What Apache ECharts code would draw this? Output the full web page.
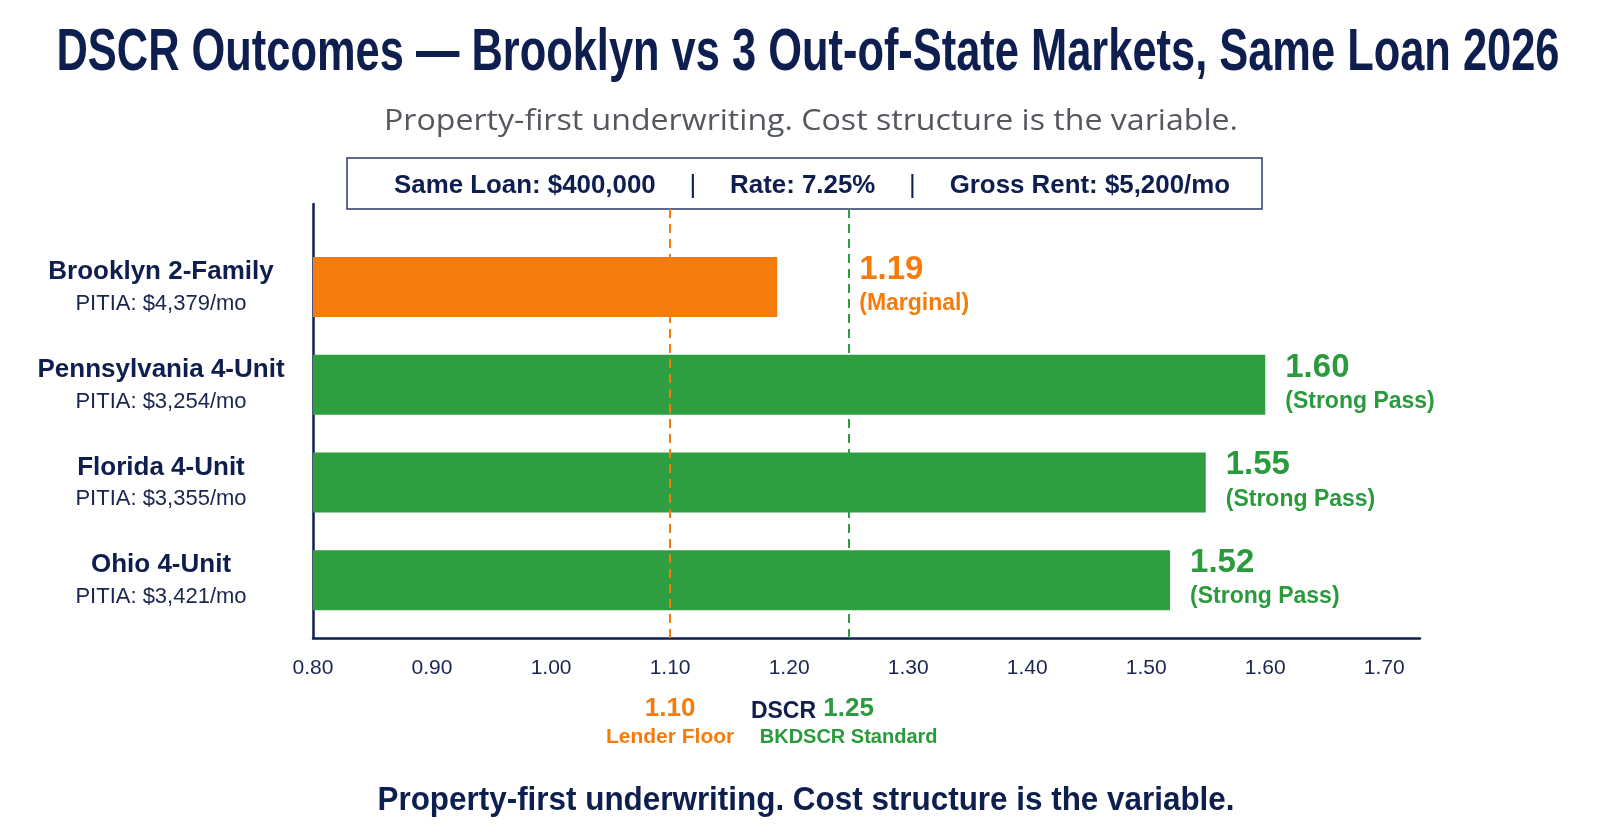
<!DOCTYPE html>
<html>
<head>
<meta charset="utf-8">
<script src="https://cdn.jsdelivr.net/npm/echarts@6/dist/echarts.min.js"></script>
<style>
html, body { margin: 0; padding: 0; background: #fff; }
#chart { width: 1600px; height: 840px; }
</style>
</head>
<body>
<div id="chart"></div>
<script>
// data
var markets = ['Brooklyn 2-Family', 'Pennsylvania 4-Unit', 'Florida 4-Unit', 'Ohio 4-Unit'];
var pitia = ['$4,379', '$3,254', '$3,355', '$3,421'];
var dscr = [1.19, 1.60, 1.55, 1.52];
var ratings = ['Marginal', 'Strong Pass', 'Strong Pass', 'Strong Pass'];
var lenderFloor = 1.10;
var bkStandard = 1.25;
var axisMin = 0.8, axisMax = 1.73, axisStep = 0.1;
var facts = ['Same Loan: $400,000', 'Rate: 7.25%', 'Gross Rent: $5,200/mo'];

var NAVY = '#0e1e4f';
var ORANGE = '#f57c0a';
var GREEN = '#2e9e41';
var GREEN_TXT = '#2a9a3c';
var SANS = '"Liberation Sans", Arial, sans-serif';

var ctx = document.createElement('canvas').getContext('2d');
function textWidth(text, font) {
    ctx.font = font;
    return ctx.measureText(text).width;
}
function fitScale(text, font, width) {
    return width / textWidth(text, font);
}

var titleText = 'DSCR Outcomes \u2014 Brooklyn vs 3 Out-of-State Markets, Same Loan 2026';
var titleFont = 'bold 60px ' + SANS;
var subText = 'Property-first underwriting. Cost structure is the variable.';
var subFont = '29px "Open Sans", sans-serif';
var tagFont = 'bold 33px ' + SANS;

// the facts strip: three bold items split by bars
var factFont = 'bold 26px ' + SANS;
var sepPad = 34;
var factsWidth = facts.reduce(function(s, t) { return s + textWidth(t, factFont); }, 0) +
    2 * textWidth('|', '26px ' + SANS) + 4 * sepPad;
var factsText = facts.map(function(t) { return '{a|' + t + '}'; }).join('{s||}');

var chart = echarts.init(document.getElementById('chart'));

var option = {
    animation: false,
    backgroundColor: '#fff',
    graphic: [
        {
            type: 'text', x: 808, y: 53, scaleX: fitScale(titleText, titleFont, 1503),
            style: { text: titleText, font: titleFont, fill: NAVY, align: 'center', verticalAlign: 'middle', textAlign: 'center', textVerticalAlign: 'middle' }
        },
        {
            type: 'text', x: 811, y: 122, scaleX: fitScale(subText, subFont, 854),
            style: { text: subText, font: subFont, fill: '#54585e', align: 'center', verticalAlign: 'middle', textAlign: 'center', textVerticalAlign: 'middle' }
        },
        {
            type: 'rect', shape: { x: 347, y: 158, width: 915, height: 51 },
            style: { fill: 'none', stroke: '#2b3a6b', lineWidth: 1.5 }
        },
        {
            type: 'text', x: 812, y: 186, scaleX: 836 / factsWidth,
            style: {
                text: factsText,
                align: 'center', verticalAlign: 'middle', textAlign: 'center', textVerticalAlign: 'middle',
                rich: {
                    a: { fontSize: 26, fontWeight: 'bold', fontFamily: SANS, fill: NAVY, color: NAVY },
                    s: { fontSize: 26, fontFamily: SANS, fill: NAVY, color: NAVY, padding: [0, sepPad] }
                }
            }
        },
        {
            type: 'text', x: 806, y: 801, scaleX: fitScale(subText, tagFont, 857),
            style: { text: subText, font: tagFont, fill: NAVY, align: 'center', verticalAlign: 'middle', textAlign: 'center', textVerticalAlign: 'middle' }
        }
    ],
    grid: [
        { left: 313, right: 180, top: 238, bottom: 211 },   // bars
        { left: 313, right: 180, top: 204, bottom: 202 }    // frame + reference lines
    ],
    xAxis: [
        {
            gridIndex: 0, type: 'value', min: axisMin, max: axisMax, interval: axisStep,
            axisLine: { show: false }, axisTick: { show: false }, axisLabel: { show: false }, splitLine: { show: false }
        },
        {
            gridIndex: 1, type: 'value', min: axisMin, max: axisMax, interval: axisStep,
            axisLine: { show: true, onZero: false, lineStyle: { color: NAVY, width: 2.5 } },
            axisTick: { show: false },
            splitLine: { show: false },
            axisLabel: {
                showMaxLabel: false, margin: 20, fontSize: 21, fontFamily: SANS, color: '#1a2550',
                formatter: function(v) { return v.toFixed(2); }
            },
            name: 'DSCR', nameLocation: 'middle', nameGap: 62,
            nameTextStyle: { fontSize: 23, fontWeight: 'bold', fontFamily: SANS, color: NAVY, padding: [0, 166, 0, 0] }
        }
    ],
    yAxis: [
        {
            gridIndex: 0, type: 'category', inverse: true, data: markets,
            axisLine: { show: false }, axisTick: { show: false },
            axisLabel: {
                align: 'center', margin: 152,
                formatter: function(v, i) {
                    return '{n|' + v + '}\n{p|PITIA: ' + pitia[i] + '/mo}';
                },
                rich: {
                    n: { fontSize: 26, fontWeight: 'bold', fontFamily: SANS, color: NAVY, lineHeight: 34, padding: [4, 0, 0, 0] },
                    p: { fontSize: 22, fontFamily: SANS, color: '#1a2550', lineHeight: 34 }
                }
            }
        },
        {
            gridIndex: 1, type: 'value', min: 0, max: 1,
            axisLine: { show: true, onZero: false, lineStyle: { color: NAVY, width: 2.5 } },
            axisTick: { show: false }, axisLabel: { show: false }, splitLine: { show: false }
        }
    ],
    series: [
        {
            type: 'bar', xAxisIndex: 0, yAxisIndex: 0, barWidth: 60,
            data: dscr.map(function(v, i) {
                var item = { value: v, itemStyle: { color: ratings[i] === 'Marginal' ? ORANGE : GREEN } };
                // keep the marginal label clear of the standard line
                if (ratings[i] === 'Marginal') item.label = { distance: 82 };
                return item;
            }),
            label: {
                show: true, position: 'right', distance: 20,
                formatter: function(p) {
                    var k = ratings[p.dataIndex] === 'Marginal' ? 'O' : 'G';
                    return '{v' + k + '|' + p.value.toFixed(2) + '}\n{s' + k + '|(' + ratings[p.dataIndex] + ')}';
                },
                rich: {
                    vO: { fontSize: 33, fontWeight: 'bold', fontFamily: SANS, color: ORANGE, lineHeight: 34 },
                    sO: { fontSize: 23, fontWeight: 'bold', fontFamily: SANS, color: ORANGE, lineHeight: 34 },
                    vG: { fontSize: 33, fontWeight: 'bold', fontFamily: SANS, color: GREEN_TXT, lineHeight: 34 },
                    sG: { fontSize: 23, fontWeight: 'bold', fontFamily: SANS, color: GREEN_TXT, lineHeight: 34 }
                }
            }
        },
        {
            type: 'line', xAxisIndex: 1, yAxisIndex: 1, data: [],
            markLine: {
                symbol: 'none', silent: true, z: 5,
                data: [
                    {
                        xAxis: lenderFloor,
                        lineStyle: { color: ORANGE, type: [9, 6], width: 2 },
                        label: {
                            position: 'start', distance: 56,
                            formatter: '{v|' + lenderFloor.toFixed(2) + '}\n{n|Lender Floor}',
                            rich: {
                                v: { fontSize: 26, fontWeight: 'bold', fontFamily: SANS, color: ORANGE, lineHeight: 29 },
                                n: { fontSize: 21, fontWeight: 'bold', fontFamily: SANS, color: ORANGE, lineHeight: 29 }
                            }
                        }
                    },
                    {
                        xAxis: bkStandard,
                        lineStyle: { color: GREEN, type: [9, 6], width: 2 },
                        label: {
                            position: 'start', distance: 56,
                            formatter: '{v|' + bkStandard.toFixed(2) + '}\n{n|BKDSCR Standard}',
                            rich: {
                                v: { fontSize: 26, fontWeight: 'bold', fontFamily: SANS, color: GREEN_TXT, lineHeight: 29 },
                                n: { fontSize: 20, fontWeight: 'bold', fontFamily: SANS, color: GREEN_TXT, lineHeight: 29 }
                            }
                        }
                    }
                ]
            }
        }
    ]
};

chart.setOption(option);
</script>
</body>
</html>
